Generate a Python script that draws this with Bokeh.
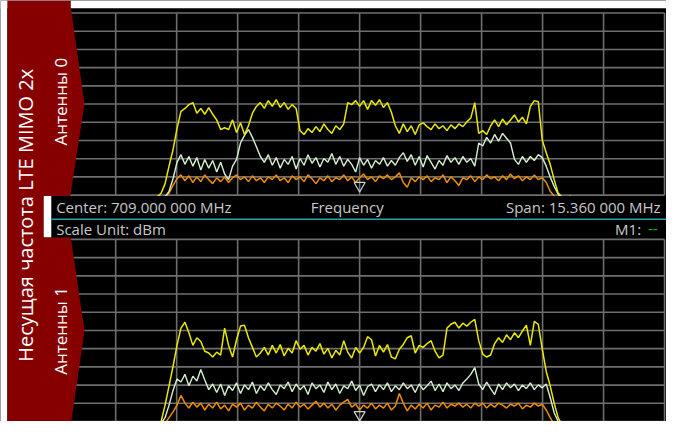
import numpy as np
from bokeh.plotting import figure
from bokeh.models import Range1d
from bokeh.core.properties import value
from bokeh.embed import file_html
from bokeh.resources import INLINE

# ---------------- data ----------------
CENTER_MHZ = 709.0
SPAN_MHZ = 15.36
REF_DBM = -20.0
DB_PER_DIV = 10.0
N_DIV = 10

SWEEP_START_MHZ = 703.6
SWEEP_STEP_MHZ = 0.1
SWEEP_POINTS = 109
freq_mhz = np.round(SWEEP_START_MHZ + SWEEP_STEP_MHZ * np.arange(SWEEP_POINTS), 2)

ant0_yellow = [-122, -122, -121.5, -121, -119, -113.7, -104.1, -95.1, -83.5, -74,
               -72.4, -70.3, -69.2, -75, -72.4, -75.6, -71.9, -75.6, -78.7, -84,
               -83, -84, -78.7, -85.6, -80.3, -86.7, -81.9, -75, -71.3, -69.2,
               -72.4, -68.1, -71.3, -67.6, -71.9, -69.2, -72.9, -70.3, -72.4, -84.6,
               -86.7, -83.5, -85.6, -82.4, -85.1, -80.9, -84, -86.1, -81.9, -84,
               -80.9, -69.2, -70.3, -68.1, -71.3, -68.1, -72.9, -68.1, -70.7, -67.6,
               -71.9, -69.2, -74.5, -81.9, -86.1, -80.9, -85.1, -81.9, -86.7, -81.4,
               -80.3, -82.4, -84, -80.9, -83.5, -81.9, -84.6, -81.4, -83.5, -80.9,
               -82.4, -79.8, -77.7, -69.2, -86.1, -84.6, -86.7, -81.9, -78.7, -82.4,
               -78.2, -81.4, -78.7, -76, -79.8, -77.2, -80.9, -71.3, -68.1, -68.7,
               -89.8, -96.7, -103.1, -111.5, -118.9, -121, -122, -120.5, -122]

ant0_green = [-122, -122, -122, -122, -121, -121, -117.9, -111, -102, -97.8,
              -103.1, -98.8, -104.1, -99.4, -106.2, -100.4, -105.2, -101, -107.3, -102,
              -108.4, -111.5, -104.1, -100.4, -91.4, -87.2, -84, -88.3, -93.5, -98.8,
              -102, -97.8, -103.6, -99.4, -105.2, -100.4, -103.1, -98.8, -105.7, -99.9,
              -103.6, -97.8, -102.5, -99.4, -104.6, -99.9, -102, -97.2, -103.1, -98.8,
              -104.1, -100.4, -103.1, -107.3, -99.4, -103.6, -100.4, -105.2, -101, -103.1,
              -99.4, -104.1, -101, -103.6, -99.4, -96.7, -101.5, -97.8, -103.6, -98.8,
              -104.6, -98.3, -102, -105.7, -101, -103.6, -98.3, -102, -99.4, -103.1,
              -98.8, -102, -99.9, -104.1, -91.4, -93, -88.3, -91.4, -86.7, -90.4,
              -86.1, -88.8, -91.4, -100.4, -103.1, -98.8, -102, -98.8, -101, -97.8,
              -99.4, -104.1, -110, -115.2, -119.5, -122, -122, -122, -122]

ant0_orange = [-122, -122, -122, -122, -122, -121, -118.9, -114.7, -111, -108.9,
               -112.1, -109.4, -113.1, -110, -112.6, -108.9, -111.5, -113.7, -110.5, -112.6,
               -110, -113.1, -110.5, -108.9, -111.5, -110, -112.6, -109.4, -112.1, -110.5,
               -113.1, -110, -111.5, -108.9, -112.1, -110.5, -113.1, -109.4, -111.5, -110,
               -112.6, -108.9, -111, -113.7, -110.5, -112.1, -109.4, -112.6, -110.5, -111.5,
               -108.9, -112.1, -110, -113.1, -110.5, -108.4, -111.5, -110, -112.6, -109.4,
               -111, -108.9, -111.5, -110, -107.8, -113.1, -115.7, -110.5, -112.6, -110,
               -111.5, -109.4, -112.6, -110.5, -111.5, -108.9, -113.1, -110, -112.1, -114.7,
               -110.5, -111.5, -109.4, -112.6, -110, -111.5, -108.9, -111, -110, -112.1,
               -109.4, -111.5, -108.4, -111, -109.4, -112.1, -110, -111.5, -108.9, -111.5,
               -110.5, -113.1, -117.9, -120.5, -122, -122, -122, -122, -122]

ant1_yellow = [-122, -122, -122, -122, -120, -111, -100.4, -89.8, -78.2, -68.7,
               -65.5, -71.3, -78.2, -74, -76.1, -81.4, -82.4, -84.6, -81.9, -83.5,
               -68.7, -78.2, -84.6, -75.1, -67.6, -67.1, -74, -79.3, -84.6, -82.4,
               -79.3, -83.5, -78.2, -82.4, -77.7, -84, -79.8, -82.4, -75.6, -80.3,
               -78.2, -83.5, -79.3, -81.4, -77.2, -83, -79.8, -85.1, -80.9, -83.5,
               -75.6, -81.9, -85.1, -79.3, -82.4, -79.3, -73.4, -75.1, -84, -78.2,
               -81.9, -77.7, -84.6, -85.6, -80.3, -77.7, -74, -72.9, -82.4, -78.2,
               -79.3, -77.2, -75.6, -81.4, -85.1, -83.5, -68.7, -66.6, -65.5, -68.7,
               -66, -67.6, -65.5, -63.9, -75.6, -83, -84.6, -83.5, -77.2, -74,
               -76.6, -72.4, -75.1, -71.3, -74, -70.3, -67.1, -78.2, -65, -66.6,
               -80.3, -92.5, -100.4, -109.9, -117.9, -122, -122, -122, -122]

ant1_green = [-122, -122, -122, -122, -121, -117.9, -111, -103, -96.7, -98.3,
              -94.1, -100.4, -95.1, -97.8, -91.4, -97.2, -102.5, -99.4, -104.1, -99.4,
              -105.7, -100.4, -103, -98.8, -104.6, -99.9, -102.5, -98.3, -104.6, -100.4,
              -103, -98.8, -102.5, -105.2, -99.9, -102, -98.3, -103.6, -99.4, -102.5,
              -100.4, -105.2, -98.8, -102, -99.9, -104.1, -98.3, -102.5, -99.4, -104.6,
              -100.4, -102, -97.8, -103, -99.9, -105.7, -100.9, -99.4, -103.6, -99.9,
              -102.5, -98.8, -103.6, -100.4, -102.5, -98.8, -102, -99.9, -104.1, -99.4,
              -102.5, -100.4, -97.8, -103, -99.4, -103.6, -98.8, -102, -99.9, -103,
              -98.8, -96.7, -94.1, -90.4, -99.4, -102.5, -98.3, -102, -105.2, -99.4,
              -102.5, -98.8, -101.5, -99.4, -103, -99.9, -102, -98.8, -102.5, -99.9,
              -101.5, -99.4, -106.8, -115.2, -120, -122, -122, -122, -122]

ant1_orange = [-122, -122, -122, -122, -122, -121, -117.9, -114.7, -111, -105.7,
               -109.9, -112.6, -109.4, -112.1, -109.9, -113.7, -110.5, -112.6, -109.4, -113.1,
               -111, -114.2, -110.5, -112.1, -109.9, -113.7, -111, -112.6, -109.4, -112.1,
               -114.2, -110.5, -112.6, -109.9, -111.5, -113.7, -110.5, -112.6, -109.4, -112.1,
               -110.5, -113.1, -111, -108.9, -112.1, -109.9, -112.6, -110.5, -113.7, -111,
               -109.4, -107.8, -112.1, -110.5, -113.7, -111, -112.6, -109.9, -113.1, -111,
               -112.6, -109.9, -113.7, -111.5, -104.6, -109.9, -114.2, -111, -113.1, -110.5,
               -112.6, -109.9, -113.7, -111, -112.1, -109.4, -112.6, -110.5, -111.5, -109.9,
               -112.1, -110.5, -112.6, -109.9, -111.5, -109.9, -112.6, -110.5, -112.1, -109.9,
               -111, -112.6, -110.5, -111.5, -109.9, -113.1, -111, -112.1, -109.9, -111.5,
               -110.5, -113.7, -117.9, -121.6, -122, -122, -122, -122, -122]

marker_freq = [709.0]
marker_level_ant0 = [-114.8]
marker_level_ant1 = [-116.3]

title_text = "Несущая частота LTE MIMO 2x"
panel_labels = ["Антенны 0", "Антенны 1"]
center_label = "Center: 709.000 000 MHz"
axis_label = "Frequency"
span_label = "Span: 15.360 000 MHz"
unit_label = "Scale Unit: dBm"
marker_label = "M1:"
marker_value = "--"

# ---------------- layout ----------------
# Layout is described in reference-picture units (682 x 437), scaled by the
# library into the figure.
W, H = 666, 421
REF_W, REF_H = 682.0, 437.0
GRID_LEFT, GRID_RIGHT = 55.5, 680.0
PANEL_TOPS = {"ant0": 13.0, "ant1": 248.0}
PX_PER_DIV_Y = 18.9
px_per_mhz = (GRID_RIGHT - GRID_LEFT) / SPAN_MHZ
px_per_db = PX_PER_DIV_Y / DB_PER_DIV
f_lo = CENTER_MHZ - SPAN_MHZ / 2
f_hi = CENTER_MHZ + SPAN_MHZ / 2

FONT = value("Open Sans")
BG = "#000000"
GRID_C = "#6e6e6e"
YELLOW = "#e8e800"
MINT = "#d6f0cf"
ORANGE = "#f08c00"
RIBBON = "#870000"
TEXT_C = "#c8c8c8"
TEAL = "#1ea6a8"

p = figure(width=W, height=H, output_backend="svg", toolbar_location=None,
           x_range=Range1d(0, REF_W), y_range=Range1d(REF_H, 0),
           x_axis_location=None, y_axis_location=None, min_border=0,
           background_fill_color=BG, border_fill_color=BG, outline_line_color=None)
p.grid.visible = False

p.extra_x_ranges = {"freq": Range1d(f_lo - GRID_LEFT / px_per_mhz,
                                     f_hi + (REF_W - GRID_RIGHT) / px_per_mhz)}
p.extra_y_ranges = {}
for name, top in PANEL_TOPS.items():
    p.extra_y_ranges[name] = Range1d(REF_DBM - (REF_H - top) / px_per_db,
                                     REF_DBM + top / px_per_db)

vx = f_lo + np.arange(N_DIV + 1) * (SPAN_MHZ / N_DIV)
hy = REF_DBM - np.arange(N_DIV + 1) * DB_PER_DIV
bottom_db = REF_DBM - N_DIV * DB_PER_DIV

traces = {
    "ant0": (ant0_orange, ant0_green, ant0_yellow, marker_level_ant0),
    "ant1": (ant1_orange, ant1_green, ant1_yellow, marker_level_ant1),
}
for name, (orange, green, yellow, mlev) in traces.items():
    kw = dict(x_range_name="freq", y_range_name=name)
    p.segment(x0=vx, y0=REF_DBM, x1=vx, y1=bottom_db, line_color=GRID_C, line_width=1.6, **kw)
    p.segment(x0=f_lo, y0=hy, x1=f_hi, y1=hy, line_color=GRID_C, line_width=1.6, **kw)
    p.line(freq_mhz, orange, line_color=ORANGE, line_width=1.5, **kw)
    p.line(freq_mhz, green, line_color=MINT, line_width=1.4, **kw)
    p.line(freq_mhz, yellow, line_color=YELLOW, line_width=1.5, **kw)
    p.scatter(marker_freq, mlev, marker="inverted_triangle", size=11, fill_color=None,
              line_color="#c8d8d8", line_width=1.2, **kw)

# white picture edges (top and left)
p.quad(left=0, right=REF_W, top=0, bottom=8, fill_color="#ffffff", line_color=None)
p.quad(left=0, right=7, top=0, bottom=REF_H, fill_color="#ffffff", line_color=None)

# status bar between panels
p.quad(left=52, right=REF_W, top=203, bottom=246, fill_color=BG, line_color=None)
p.quad(left=44, right=52, top=203, bottom=246, fill_color="#ffffff", line_color=None)
p.segment(x0=52, y0=227, x1=REF_W, y1=227, line_color=TEAL, line_width=1.6)

def txt(x, y, s, size, color=TEXT_C, align="left", angle=0.0):
    p.text(x=[x], y=[y], text=[s], text_font=FONT, text_font_size=value(size),
           text_color=color, text_align=align, text_baseline="middle", angle=angle)

txt(57, 214, center_label, "15px")
txt(355, 214, axis_label, "15px", align="center")
txt(676, 214, span_label, "15px", align="right")
txt(57, 237, unit_label, "15px")
txt(656, 237, marker_label, "15px", align="right")
txt(663, 237, marker_value, "15px", color="#00c000")

# red ribbon
rib_x = [7, 72, 72, 86, 71.5, 44, 44, 72, 86, 72, 7]
rib_y = [0, 0, 8, 107, 203, 203, 246, 246, 343, 440, 440]
p.patch(rib_x, rib_y, fill_color=RIBBON, line_color=None)

txt(26, 223, title_text, "20px", color="#ffffff", align="center", angle=np.pi / 2)
txt(61, 105, panel_labels[0], "17px", color="#ffffff", align="center", angle=np.pi / 2)
txt(61, 343, panel_labels[1], "17px", color="#ffffff", align="center", angle=np.pi / 2)

open("out.html", "w").write(file_html(p, INLINE))
